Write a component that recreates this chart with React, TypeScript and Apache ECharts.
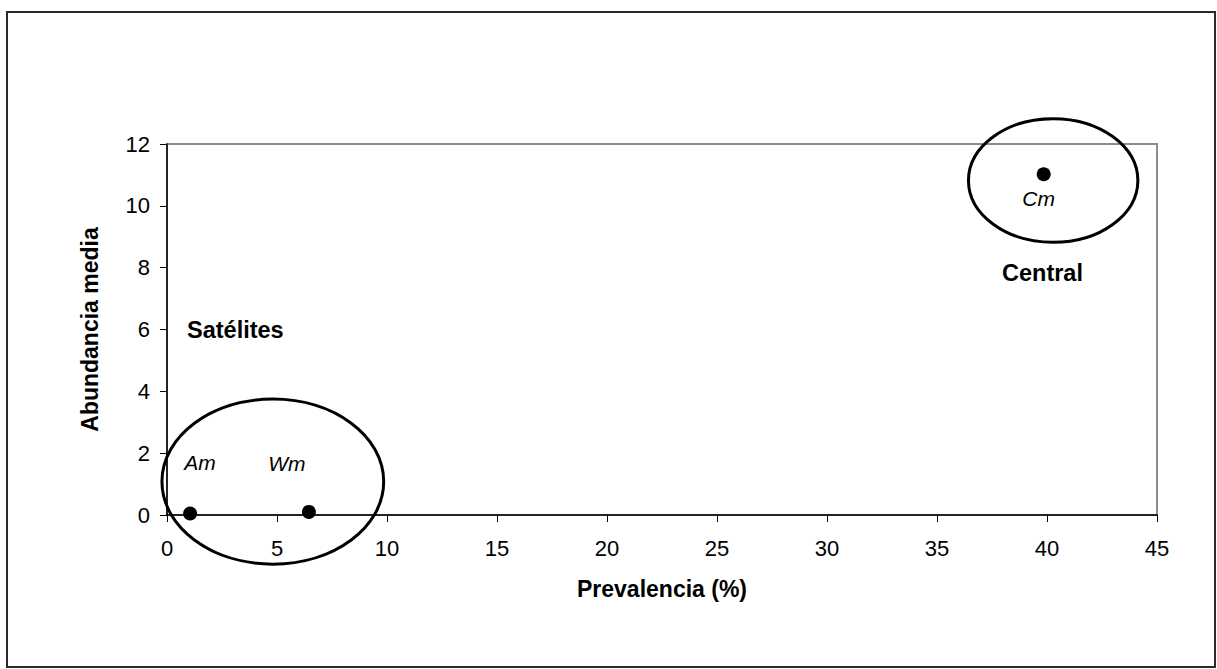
import React, { useEffect, useRef } from "react";
import * as echarts from "echarts";

const pointNames = ["Am", "Wm", "Cm"];
const prevalencia = [1.05, 6.45, 39.85];
const abundancia = [0.05, 0.1, 11.02];

// grouping ellipses in data units: [cx, cy, rx, ry]
const groupNames = ["Satélites", "Central"];
const ellipseCx = [4.81, 40.28];
const ellipseCy = [1.08, 10.82];
const ellipseRx = [5.04, 3.85];
const ellipseRy = [2.67, 2.0];

const xTicks = [0, 5, 10, 15, 20, 25, 30, 35, 40, 45];
const yTicks = [0, 2, 4, 6, 8, 10, 12];

const FONT = "'Liberation Sans', Arial, sans-serif";

export default function App() {
  const ref = useRef<HTMLDivElement>(null);
  useEffect(() => {
    if (!ref.current) return;
    const chart = echarts.init(ref.current, null, { renderer: "svg" });
    const labelOffsets: Record<string, { position: string; offset: number[] }> = {
      Am: { position: "top", offset: [10, -28] },
      Wm: { position: "top", offset: [-22, -26] },
      Cm: { position: "bottom", offset: [-5, 2] },
    };
    const pts = pointNames.map((n, i) => ({
      name: n,
      value: [prevalencia[i], abundancia[i]],
      label: {
        show: true,
        formatter: n,
        position: labelOffsets[n].position,
        offset: labelOffsets[n].offset,
        fontStyle: "italic",
        fontSize: 21,
        color: "#000",
        opacity: 1,
        fontFamily: FONT,
      },
    }));
    const ells = groupNames.map((g, i) => ({
      name: g,
      value: [ellipseCx[i], ellipseCy[i], ellipseRx[i], ellipseRy[i]],
    }));
    chart.setOption({
      animation: false,
      backgroundColor: "#fff",
      grid: {
        left: 167,
        right: 60,
        top: 144,
        bottom: 154,
        show: true,
        borderColor: "#8c8c8c",
        borderWidth: 2,
        backgroundColor: "transparent",
      },
      xAxis: {
        type: "value",
        min: xTicks[0],
        max: xTicks[xTicks.length - 1],
        interval: 5,
        name: "Prevalencia (%)",
        nameLocation: "middle",
        nameGap: 62,
        nameTextStyle: { fontSize: 23, fontWeight: "bold", color: "#000", fontFamily: FONT },
        axisLine: { show: true, onZero: false, lineStyle: { color: "#000", width: 1.5 } },
        axisTick: { show: true, length: 7, lineStyle: { color: "#000" } },
        axisLabel: { fontSize: 22, color: "#000", margin: 22, fontFamily: FONT },
        splitLine: { show: false },
      },
      yAxis: {
        type: "value",
        min: yTicks[0],
        max: yTicks[yTicks.length - 1],
        interval: 2,
        name: "Abundancia media",
        nameLocation: "middle",
        nameGap: 66,
        nameTextStyle: { fontSize: 23, fontWeight: "bold", color: "#000", fontFamily: FONT },
        axisLine: { show: true, onZero: false, lineStyle: { color: "#000", width: 1.5 } },
        axisTick: { show: true, length: 7, lineStyle: { color: "#000" } },
        axisLabel: { fontSize: 22, color: "#000", margin: 17, fontFamily: FONT },
        splitLine: { show: false },
      },
      graphic: [
        {
          type: "rect",
          shape: { x: 7, y: 12, width: 1208, height: 655 },
          style: { fill: "none", stroke: "#2a2a2a", lineWidth: 2 },
          silent: true,
        },
        {
          type: "text",
          x: 187,
          y: 330,
          style: {
            text: groupNames[0],
            fontSize: 23.5,
            fontWeight: "bold",
            fill: "#000",
            fontFamily: FONT,
            verticalAlign: "middle",
          },
        },
        {
          type: "text",
          x: 1002,
          y: 273,
          style: {
            text: groupNames[1],
            fontSize: 23.5,
            fontWeight: "bold",
            fill: "#000",
            fontFamily: FONT,
            verticalAlign: "middle",
          },
        },
      ],
      series: [
        {
          type: "custom",
          clip: false,
          silent: true,
          data: ells,
          renderItem: (params: any, api: any) => {
            const c = api.coord([api.value(0), api.value(1)]);
            const s = api.size([api.value(2), api.value(3)]);
            return {
              type: "ellipse",
              shape: { cx: c[0], cy: c[1], rx: s[0], ry: s[1] },
              style: { fill: "none", stroke: "#000", lineWidth: 3 },
            };
          },
          z: 3,
        },
        {
          type: "scatter",
          symbol: "circle",
          symbolSize: 14,
          itemStyle: { color: "#000", opacity: 1 },
          emphasis: { disabled: true },
          data: pts,
          z: 4,
        },
      ],
    });
    return () => chart.dispose();
  }, []);
  return (
    <div
      ref={ref}
      style={{ position: "absolute", left: 0, top: 0, width: 1217, height: 669 }}
    />
  );
}
